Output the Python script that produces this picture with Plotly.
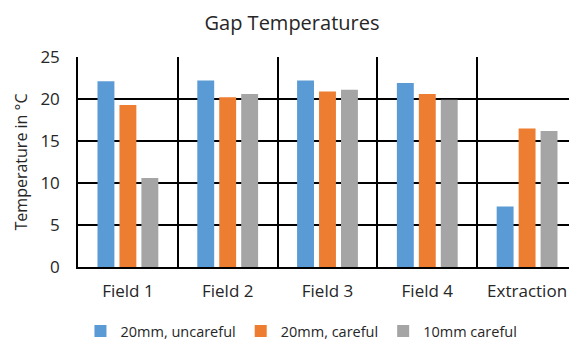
import plotly.graph_objects as go

categories = ["Field 1", "Field 2", "Field 3", "Field 4", "Extraction"]
s_uncareful_20 = [22.1, 22.2, 22.2, 21.9, 7.2]
s_careful_20 = [19.3, 20.2, 20.9, 20.6, 16.5]
s_careful_10 = [10.6, 20.6, 21.1, 19.9, 16.2]
series_names = ["20mm, uncareful", "20mm, careful", "10mm careful"]
colors = ["#5B9BD5", "#ED7D31", "#A5A5A5"]
yticks = [0, 5, 10, 15, 20, 25]

fig = go.Figure()
for name, vals, c in zip(series_names, [s_uncareful_20, s_careful_20, s_careful_10], colors):
    fig.add_trace(go.Bar(x=categories, y=vals, name=name, marker=dict(color=c, line=dict(width=0))))

font = "Open Sans"
tc = "#262626"
fig.update_layout(
    width=569, height=340,
    margin=dict(l=78, r=0, t=57, b=73),
    paper_bgcolor="white", plot_bgcolor="white",
    barmode="group", bargap=0.34, bargroupgap=0.23,
    font=dict(family=font, color=tc),
    title=dict(text="Gap Temperatures", x=292 / 569, xref="container", xanchor="center",
               y=1 - 23 / 340, yref="container", yanchor="middle",
               font=dict(size=20, color=tc, family=font)),
    xaxis=dict(type="category", tickson="boundaries", showgrid=True, gridcolor="black", gridwidth=1.5,
               range=[-0.5, 4.42], ticks="", showline=True, linecolor="black", linewidth=2,
               tickfont=dict(size=17, color=tc), ticklabelstandoff=8),
    yaxis=dict(range=[0, 25], tickvals=yticks, showgrid=True, gridcolor="black", gridwidth=1.5,
               showline=True, linecolor="black", linewidth=1.5, zeroline=False, ticks="",
               tickfont=dict(size=17, color=tc), ticklabelstandoff=13,
               title=dict(text="Temperature in °C", font=dict(size=16, color=tc), standoff=9)),
    legend=dict(orientation="h", x=0.005, xanchor="left", y=1 - 331 / 340, yref="container", yanchor="middle",
                font=dict(size=14.5, color=tc), traceorder="normal", itemwidth=30),
    showlegend=True,
)
fig.write_html("out.html")
